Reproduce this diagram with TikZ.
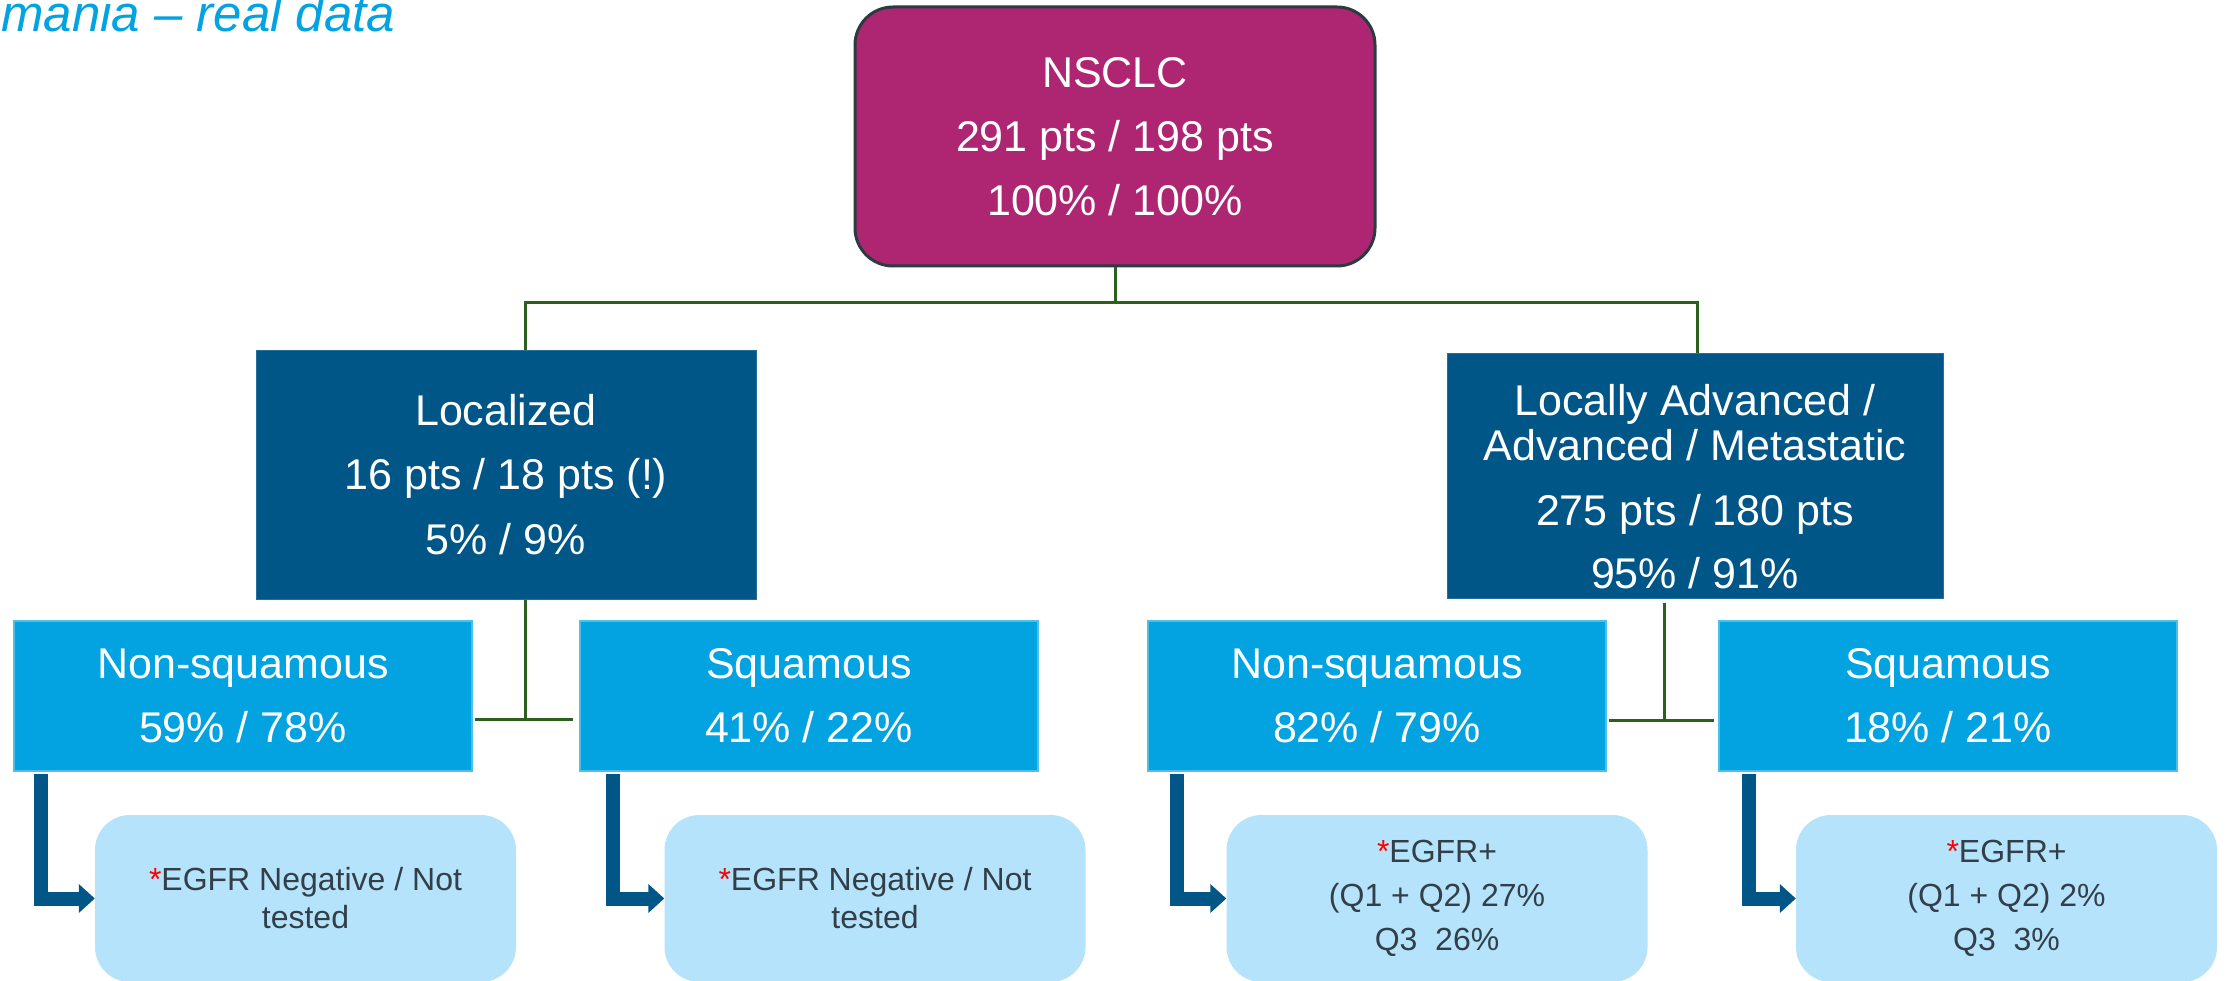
\documentclass[tikz,border=0pt]{standalone}
\usepackage{fontspec}
\setmainfont{Liberation Sans}
\usetikzlibrary{arrows.meta}

\definecolor{plum}{RGB}{174,37,114}
\definecolor{navy}{RGB}{0,86,135}
\definecolor{sky}{RGB}{2,163,224}
\definecolor{pale}{RGB}{180,227,251}
\definecolor{ink}{RGB}{51,63,72}
\definecolor{twig}{RGB}{45,95,31}
\definecolor{rim}{RGB}{44,58,66}

\begin{document}
\begin{tikzpicture}[x=1pt,y=-1pt,
  every node/.style={inner sep=0pt, align=center},
  bigtext/.style={font=\fontsize{43}{45}\selectfont, text=white},
  rootbox/.style={bigtext, rectangle, rounded corners=38pt, fill=plum,
    draw=rim, line width=3pt, minimum width=520pt, minimum height=259pt},
  stagebox/.style={bigtext, rectangle, fill=navy, draw=navy!85!white, line width=1pt},
  histbox/.style={bigtext, rectangle, fill=sky, draw=sky!70!white, line width=1.5pt,
    minimum width=458pt, minimum height=150pt},
  egfrbox/.style={rectangle, rounded corners=35pt, fill=pale, text=ink,
    font=\fontsize{32}{38}\selectfont, minimum width=421pt, minimum height=167pt},
  conn/.style={draw=twig, line width=3pt},
  fat/.style={draw=navy, line width=14pt, -{Triangle[length=16pt,width=28pt]}}
]
\useasboundingbox (0,0) rectangle (2234,981);

% heading
\node[anchor=base west, font=\fontsize{51}{56}\selectfont\itshape, text=sky]
  (title) at (1,32) {mania – real data};

% root
\node[rootbox] (nsclc) at (1115,136.5)
  {NSCLC\\[19pt]291 pts / 198 pts\\[19pt]100\% / 100\%};

% stages
\node[stagebox, minimum width=500pt, minimum height=249pt] (loc) at (506,474.5)
  {Localized\\[19.5pt]16 pts / 18 pts (!)\\[19.5pt]5\% / 9\%};
\node[stagebox, minimum width=496pt, minimum height=245pt] (lam) at (1695,475.5)
  {\rule{0pt}{53pt}Locally Advanced /\\Advanced / Metastatic\\[20pt]275 pts / 180 pts\\[18pt]95\% / 91\%};

% histology
\node[histbox] (ns1) at (243,696) {Non-squamous\\[19pt]59\% / 78\%};
\node[histbox] (sq1) at (809,696) {Squamous\\[19pt]41\% / 22\%};
\node[histbox] (ns2) at (1377,696) {Non-squamous\\[19pt]82\% / 79\%};
\node[histbox] (sq2) at (1948,696) {Squamous\\[19pt]18\% / 21\%};

% EGFR status
\node[egfrbox] (eg1) at (305.5,898.5) {\textcolor{red}{*}EGFR Negative / Not\\tested};
\node[egfrbox] (eg2) at (875,898.5) {\textcolor{red}{*}EGFR Negative / Not\\tested};
\node[egfrbox] (eg3) at (1437,898.5)
  {\textcolor{red}{*}EGFR+\\[6pt](Q1 + Q2) 27\%\\[6pt]Q3~~26\%};
\node[egfrbox] (eg4) at (2006.5,898.5)
  {\textcolor{red}{*}EGFR+\\[6pt](Q1 + Q2) 2\%\\[6pt]Q3~~3\%};

% tree connectors
\coordinate (lvl) at (0,303);
\coordinate (hub) at (nsclc.south |- lvl);
\draw[conn] (nsclc.south) -- (hub);
\draw[conn] (hub) -| ([xshift=19pt]loc.north);
\draw[conn] (hub) -| ([xshift=2pt]lam.north);

\coordinate (lj) at (525,719);
\draw[conn] ([xshift=19pt]loc.south) -- (lj);
\draw[conn] ([xshift=2pt,yshift=-23pt]ns1.east) -- ([xshift=-6pt,yshift=-23pt]sq1.west);

\coordinate (rj) at (1664,720);
\draw[conn] ([xshift=-31pt,yshift=-4pt]lam.south) -- (rj);
\draw[conn] ([xshift=2pt,yshift=-24pt]ns2.east) -- ([xshift=-4pt,yshift=-24pt]sq2.west);

% bent arrows to EGFR boxes
\draw[fat] ([xshift=28pt,yshift=-2pt]ns1.south west) |- (eg1.west);
\draw[fat] ([xshift=34pt,yshift=-2pt]sq1.south west) |- (eg2.west);
\draw[fat] ([xshift=30pt,yshift=-2pt]ns2.south west) |- (eg3.west);
\draw[fat] ([xshift=31pt,yshift=-2pt]sq2.south west) |- (eg4.west);
\end{tikzpicture}
\end{document}
